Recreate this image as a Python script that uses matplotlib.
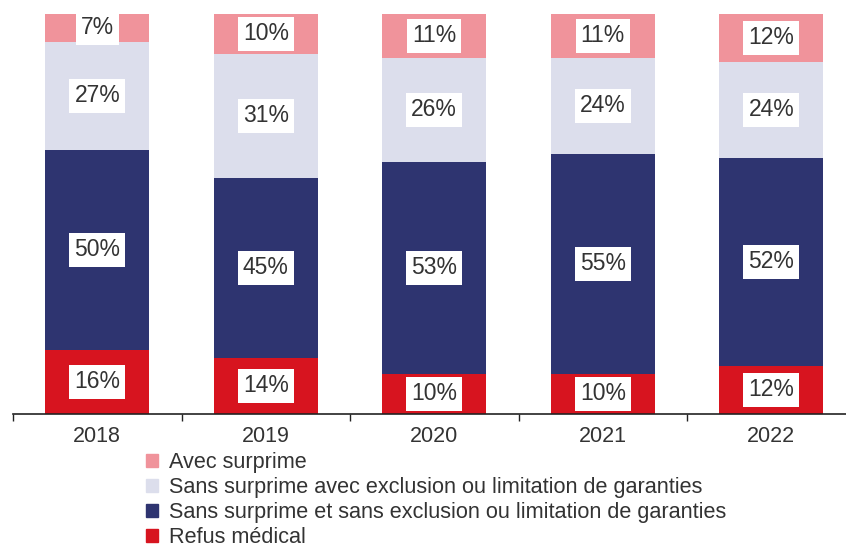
import matplotlib.pyplot as plt
from matplotlib.patches import Patch
import numpy as np

plt.rcParams['font.family'] = ['Liberation Sans', 'DejaVu Sans']

years = ['2018', '2019', '2020', '2021', '2022']
refus = [16, 14, 10, 10, 12]
sans_sans = [50, 45, 53, 55, 52]
sans_avec = [27, 31, 26, 24, 24]
avec_surprime = [7, 10, 11, 11, 12]

series = [
    ('Refus médical', refus, '#d7141f'),
    ('Sans surprime et sans exclusion ou limitation de garanties', sans_sans, '#2e3470'),
    ('Sans surprime avec exclusion ou limitation de garanties', sans_avec, '#dcdeec'),
    ('Avec surprime', avec_surprime, '#f0939b'),
]

fig = plt.figure(figsize=(8.46, 5.48), dpi=100)
ax = fig.add_axes([13 / 846, 134 / 548, 842.5 / 846, 400 / 548])

x = np.arange(len(years))
bottom = np.zeros(len(years))
for name, vals, col in series:
    ax.bar(x, vals, width=0.62, bottom=bottom, color=col, label=name)
    for xi, b, v in zip(x, bottom, vals):
        ax.text(xi, b + v / 2, f'{v}%', ha='center', va='center', fontsize=16.5,
                color='#333333',
                bbox=dict(boxstyle='square,pad=0.22', fc='white', ec='none'))
    bottom += np.array(vals)

ax.set_xlim(-0.5, 4.5)
ax.set_ylim(0, 100)
ax.set_xticks(x)
ax.set_xticklabels(years, fontsize=15.5, color='#333333')
ax.set_xticks(np.arange(-0.5, 5, 1), minor=True)
ax.tick_params(axis='x', which='major', length=0, pad=9)
ax.tick_params(axis='x', which='minor', length=5, width=1, color='#222222')
ax.set_yticks([])
for s in ['top', 'right', 'left']:
    ax.spines[s].set_visible(False)
ax.spines['bottom'].set_linewidth(1.2)
ax.spines['bottom'].set_color('#222222')

handles = [Patch(color=col, label=name) for name, vals, col in series[::-1]]
fig.legend(handles=handles, loc='upper left', bbox_to_anchor=(146 / 846, 1 - 452 / 548),
           frameon=False, fontsize=15.6, handlelength=0.55, handleheight=0.55,
           handletextpad=0.5, labelspacing=0.19, borderaxespad=0, borderpad=0,
           labelcolor='#333333')

fig.savefig('out.png', dpi=100)
